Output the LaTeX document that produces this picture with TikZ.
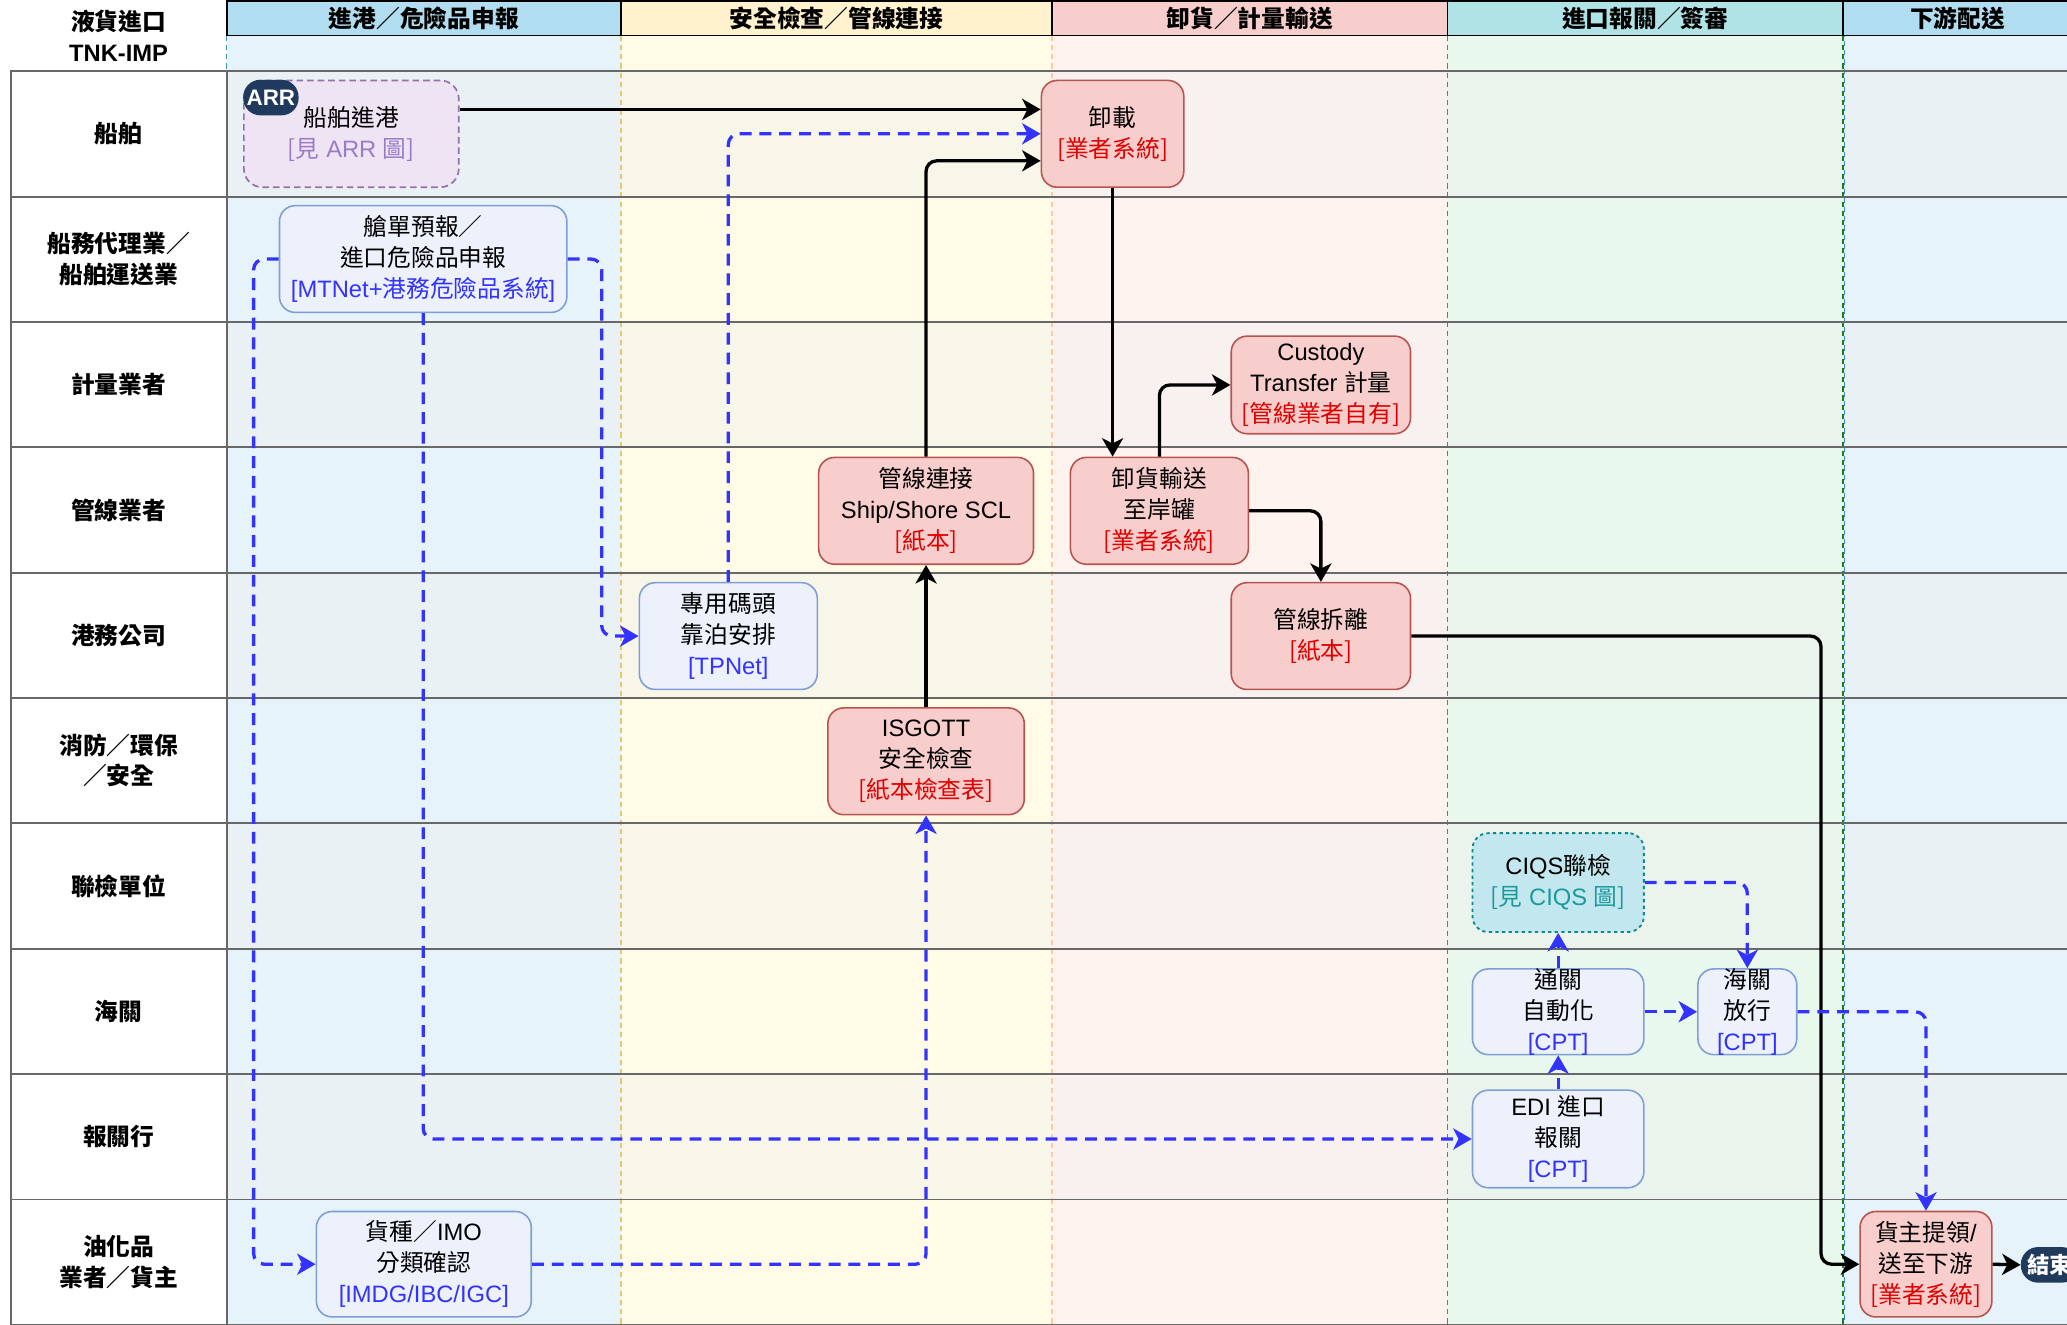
\documentclass[tikz,border=0pt]{standalone}
\usepackage{fontspec}
\setmainfont{Noto Sans CJK TC}
\newfontfamily\lat{Liberation Sans}
\newcommand\latn[1]{{\lat #1}}
\usetikzlibrary{arrows.meta,calc}
\definecolor{hdrBlue}{HTML}{B1DDF0}
\definecolor{hdrYel}{HTML}{FFF2CC}
\definecolor{hdrRed}{HTML}{F8CECC}
\definecolor{hdrTeal}{HTML}{B0E3E6}
\definecolor{bgBlue}{HTML}{E6F3FA}
\definecolor{bgYel}{HTML}{FFFBE6}
\definecolor{bgRed}{HTML}{FFF3F0}
\definecolor{bgGreen}{HTML}{E8F8EC}
\definecolor{tintCol}{HTML}{EEEEEE}
\definecolor{redFill}{HTML}{F8CECC}
\definecolor{redLine}{HTML}{B85450}
\definecolor{redTxt}{HTML}{E00000}
\definecolor{bluFill}{HTML}{ECF1FC}
\definecolor{bluLine}{HTML}{7E9FD6}
\definecolor{bluTxt}{HTML}{3333FF}
\definecolor{purFill}{HTML}{EEE4F3}
\definecolor{purLine}{HTML}{9673A6}
\definecolor{purTxt}{HTML}{9B7BC8}
\definecolor{ciqsFill}{HTML}{C2E7EF}
\definecolor{ciqsLine}{HTML}{11888F}
\definecolor{ciqsTxt}{HTML}{1A9A9A}
\definecolor{navy}{HTML}{1F3A5C}
\definecolor{laneLine}{HTML}{686868}
\definecolor{flowBlue}{HTML}{3333FF}
\definecolor{divBlue}{HTML}{3A8FC8}
\definecolor{divYel}{HTML}{E6C86E}
\definecolor{divRed}{HTML}{FFC8A0}
\definecolor{divGreen}{HTML}{2EA62E}
\definecolor{divDGreen}{HTML}{1E7A1E}
\begin{document}
\begin{tikzpicture}[x=1pt,y=-1pt,
  txt/.style={align=center, inner sep=0pt, font=\fontsize{18}{23.5}\selectfont},
  lanecell/.style={draw=laneLine, fill=white, line width=1.5pt, minimum width=164pt, minimum height=95.1pt, inner sep=0pt, align=center, font=\fontsize{18}{23}\selectfont\bfseries},
  hdrbox/.style={draw=black, line width=1.3pt, minimum height=26pt, inner sep=0pt, font=\fontsize{18}{22}\selectfont\bfseries},
  redbox/.style={draw=redLine, fill=redFill, rounded corners=12pt, line width=1.2pt, inner sep=0pt},
  blubox/.style={draw=bluLine, fill=bluFill, rounded corners=12pt, line width=1.2pt, inner sep=0pt},
  arrbox/.style={draw=purLine, fill=purFill, rounded corners=14pt, line width=1.3pt, dash pattern=on 5pt off 3pt, inner sep=0pt},
  ciqsbox/.style={draw=ciqsLine, fill=ciqsFill, rounded corners=12pt, line width=1.4pt, dash pattern=on 2.5pt off 2.5pt, inner sep=0pt},
  badge/.style={fill=navy, rounded corners=13pt, inner sep=0pt, text=white, font=\fontsize{17}{20}\selectfont\bfseries},
  blk/.style={draw=black, line width=2.5pt, rounded corners=8pt, -{Stealth[length=14pt,width=16pt,inset=4pt]}},
  dsh/.style={draw=flowBlue, line width=2.5pt, rounded corners=8pt, dash pattern=on 9pt off 6pt, -{Stealth[length=14pt,width=16pt,inset=4pt]}},
  divline/.style={line width=1pt, dash pattern=on 4pt off 3pt},
]
\useasboundingbox (0,0) rectangle (1568,1005);
\clip (0,0) rectangle (1568,1005);
\fill[white] (0,0) rectangle (1568,1005);
% column backgrounds
\fill[bgBlue] (172,27) rectangle (471,1005);
\fill[bgYel] (471,27) rectangle (798,1005);
\fill[bgRed] (798,27) rectangle (1098,1005);
\fill[bgGreen] (1098,27) rectangle (1398,1005);
\fill[bgBlue] (1398,27) rectangle (1572,1005);
% alternating lane tint
\foreach \r in {0,2,4,6,8}
  \fill[tintCol, fill opacity=0.4] (172,{54+95.1*\r}) rectangle (1572,{54+95.1*(\r+1)});
% column dividers
\draw[divline, divBlue] (172,27) -- (172,54);
\draw[divline, divYel] (471,27) -- (471,1005);
\draw[divline, divRed] (798,27) -- (798,1005);
\draw[divline, divGreen] (1098,27) -- (1098,1005);
\draw[divline, divDGreen, line width=1.3pt] (1398,27) -- (1398,1005);
\draw[divline, divBlue, dash phase=3pt] (1399,27) -- (1399,1005);
% lane lines
\foreach \r in {0,...,10}
  \draw[laneLine, line width=1.5pt] (8,{54+95.1*\r}) -- (1572,{54+95.1*\r});
% title
\node[txt, font=\fontsize{18}{23}\selectfont\bfseries] (title) at (90,27) {液貨進口\\\latn{TNK-IMP}};
% column headers
\node[hdrbox, fill=hdrBlue, minimum width=299pt] (h1) at (321.5,14) {進港／危險品申報};
\node[hdrbox, fill=hdrYel, minimum width=327pt] (h2) at (634.5,14) {安全檢查／管線連接};
\node[hdrbox, fill=hdrRed, minimum width=300pt] (h3) at (948,14) {卸貨／計量輸送};
\node[hdrbox, fill=hdrTeal, minimum width=300pt] (h4) at (1248,14) {進口報關／簽審};
\node[hdrbox, fill=hdrBlue, minimum width=174pt] (h5) at (1485,14) {下游配送};
% lane labels
\node[lanecell] (l1) at (90,101.55) {船舶};
\node[lanecell] (l2) at (90,196.65) {船務代理業／\\船舶運送業};
\node[lanecell] (l3) at (90,291.75) {計量業者};
\node[lanecell] (l4) at (90,386.85) {管線業者};
\node[lanecell] (l5) at (90,481.95) {港務公司};
\node[lanecell] (l6) at (90,577.05) {消防／環保\\／安全};
\node[lanecell] (l7) at (90,672.15) {聯檢單位};
\node[lanecell] (l8) at (90,767.25) {海關};
\node[lanecell] (l9) at (90,862.35) {報關行};
\node[lanecell] (l10) at (90,957.45) {油化品\\業者／貨主};
% boxes
\node[arrbox, minimum width=163pt, minimum height=81pt] (arr) at (266.5,101.5) {};
\node[redbox, minimum width=108pt, minimum height=81pt] (unload) at (844,101.5) {};
\node[blubox, minimum width=218pt, minimum height=81pt] (manifest) at (321,196.5) {};
\node[redbox, minimum width=136pt, minimum height=74pt] (custody) at (1002,292) {};
\node[redbox, minimum width=163pt, minimum height=81pt] (pipecon) at (702.5,387.5) {};
\node[redbox, minimum width=135pt, minimum height=81pt] (transfer) at (879.5,387.5) {};
\node[blubox, minimum width=135pt, minimum height=81pt] (berth) at (552.5,482.5) {};
\node[redbox, minimum width=136pt, minimum height=81pt] (disconnect) at (1002,482.5) {};
\node[redbox, minimum width=149pt, minimum height=81pt] (isgott) at (702.5,577.5) {};
\node[ciqsbox, minimum width=130pt, minimum height=75pt] (ciqs) at (1182,669.5) {};
\node[blubox, minimum width=130pt, minimum height=65pt] (auto) at (1182,767.5) {};
\node[blubox, minimum width=75pt, minimum height=65pt] (release) at (1325.5,767.5) {};
\node[blubox, minimum width=130pt, minimum height=74pt] (edi) at (1182,864) {};
\node[blubox, minimum width=163pt, minimum height=80pt] (cargo) at (321.5,959) {};
\node[redbox, minimum width=100pt, minimum height=80pt] (deliver) at (1461,959) {};
\node[badge, minimum width=44pt, minimum height=27pt] (endb) at (1555,959.5) {結束};
% connectors
\draw[blk] ([yshift=18.5pt]arr.east) -- ([yshift=18.5pt]unload.west);
\draw[blk] (pipecon.north) |- ([yshift=-20.5pt]unload.west);
\draw[blk] (unload.south) -- (unload.south |- transfer.north);
\draw[blk] (transfer.north) |- (custody.west);
\draw[blk] (transfer.east) -| (disconnect.north);
\draw[blk] (isgott.north) -- (pipecon.south);
\draw[blk] (disconnect.east) -| ([xshift=-29pt]deliver.west) -- (deliver.west);
\draw[blk] (deliver.east) -- (endb.west);
\draw[dsh] (manifest.east) -| ([xshift=-28pt]berth.west) -- (berth.west);
\draw[dsh] (manifest.west) -| ([xshift=-47pt]cargo.west) -- (cargo.west);
\draw[dsh] (manifest.south) |- (edi.west);
\draw[dsh] (berth.north) |- (unload.west);
\draw[dsh] (cargo.east) -| (isgott.south);
\draw[dsh] (edi.north) -- (auto.south);
\draw[dsh] (auto.north) -- (ciqs.south);
\draw[dsh] (ciqs.east) -| (release.north);
\draw[dsh] (auto.east) -- (release.west);
\draw[dsh] (release.east) -| (deliver.north);
% texts
\node[txt] (tArr) at (arr) {船舶進港\\\textcolor{purTxt}{[見\latn{ ARR }圖]}};
\node[badge, minimum width=42pt, minimum height=27pt] (arrb) at (205.5,74) {\latn{ARR}};
\node[txt] (tUnload) at (unload) {卸載\\\textcolor{redTxt}{[業者系統]}};
\node[txt] (tManifest) at (manifest) {艙單預報／\\進口危險品申報\\\textcolor{bluTxt}{\latn{[MTNet+}港務危險品系統\latn{]}}};
\node[txt] (tCustody) at (custody) {\latn{Custody}\\\latn{Transfer }計量\\\textcolor{redTxt}{[管線業者自有]}};
\node[txt] (tPipecon) at (pipecon) {管線連接\\\latn{Ship/Shore SCL}\\\textcolor{redTxt}{[紙本]}};
\node[txt] (tTransfer) at (transfer) {卸貨輸送\\至岸罐\\\textcolor{redTxt}{[業者系統]}};
\node[txt] (tBerth) at (berth) {專用碼頭\\靠泊安排\\\textcolor{bluTxt}{\latn{[TPNet]}}};
\node[txt] (tDisconnect) at (disconnect) {管線拆離\\\textcolor{redTxt}{[紙本]}};
\node[txt] (tIsgott) at (isgott) {\latn{ISGOTT}\\安全檢查\\\textcolor{redTxt}{[紙本檢查表]}};
\node[txt] (tCiqs) at (ciqs) {\latn{CIQS}聯檢\\\textcolor{ciqsTxt}{[見\latn{ CIQS }圖]}};
\node[txt] (tAuto) at (auto) {通關\\自動化\\\textcolor{bluTxt}{\latn{[CPT]}}};
\node[txt] (tRelease) at (release) {海關\\放行\\\textcolor{bluTxt}{\latn{[CPT]}}};
\node[txt] (tEdi) at (edi) {\latn{EDI }進口\\報關\\\textcolor{bluTxt}{\latn{[CPT]}}};
\node[txt] (tCargo) at (cargo) {貨種／\latn{IMO}\\分類確認\\\textcolor{bluTxt}{\latn{[IMDG/IBC/IGC]}}};
\node[txt] (tDeliver) at (deliver) {貨主提領\latn{/}\\送至下游\\\textcolor{redTxt}{[業者系統]}};
\end{tikzpicture}
\end{document}
